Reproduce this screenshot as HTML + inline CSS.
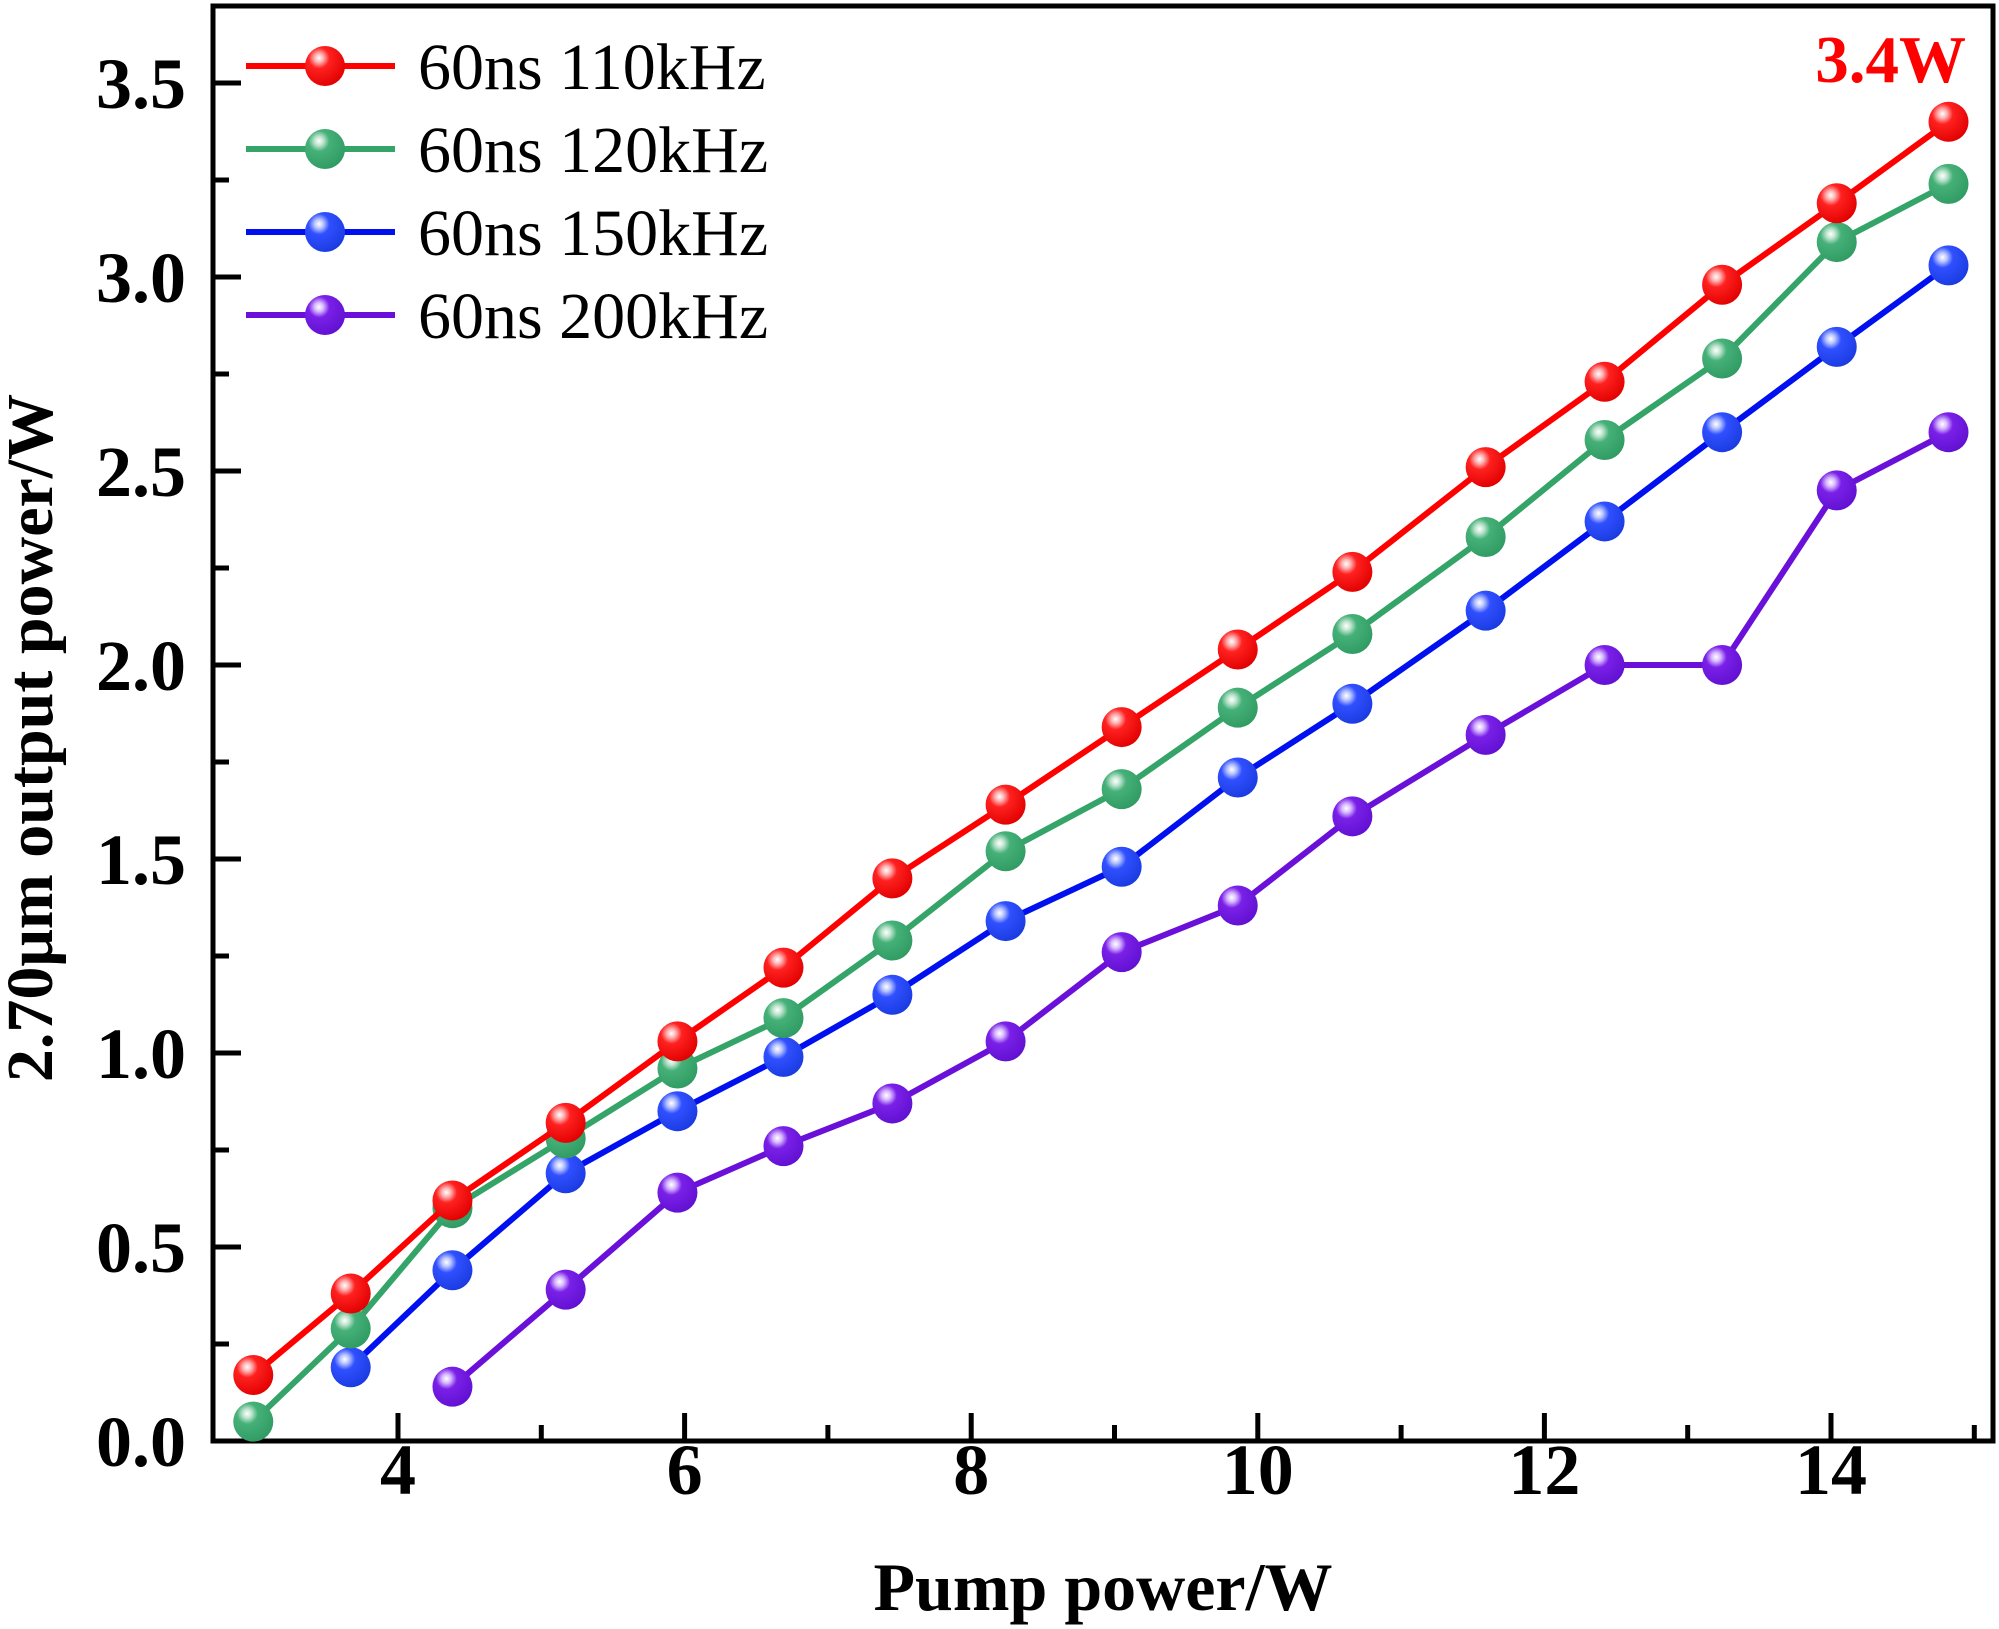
<!DOCTYPE html>
<html><head><meta charset="utf-8"><style>
html,body{margin:0;padding:0;background:#fff;}
svg{display:block;}
text{font-family:"Liberation Serif",serif;}
</style></head><body>
<svg id="chart" width="1999" height="1629" viewBox="0 0 1999 1629" xmlns="http://www.w3.org/2000/svg">
<defs>
<radialGradient id="gr-red" cx="0.35" cy="0.3" r="0.75"><stop offset="0" stop-color="#fff"/><stop offset="0.15" stop-color="#ffb0b0"/><stop offset="0.35" stop-color="#ff2020"/><stop offset="1" stop-color="#e00000"/></radialGradient>
<radialGradient id="gr-green" cx="0.35" cy="0.3" r="0.75"><stop offset="0" stop-color="#fff"/><stop offset="0.15" stop-color="#bfe5cf"/><stop offset="0.35" stop-color="#45b078"/><stop offset="1" stop-color="#2f9a62"/></radialGradient>
<radialGradient id="gr-blue" cx="0.35" cy="0.3" r="0.75"><stop offset="0" stop-color="#fff"/><stop offset="0.15" stop-color="#b8c4ff"/><stop offset="0.35" stop-color="#3050ff"/><stop offset="1" stop-color="#1a3ae0"/></radialGradient>
<radialGradient id="gr-purple" cx="0.35" cy="0.3" r="0.75"><stop offset="0" stop-color="#fff"/><stop offset="0.15" stop-color="#d8b8ff"/><stop offset="0.35" stop-color="#7a20e8"/><stop offset="1" stop-color="#6010d0"/></radialGradient>
</defs>
<g id="plot"></g>
</svg>
<script>
const xRed = [2.99,3.67,4.38,5.17,5.95,6.69,7.45,8.24,9.05,9.86,10.66,11.59,12.42,13.24,14.04,14.82];
const yRed = [0.17,0.38,0.62,0.82,1.03,1.22,1.45,1.64,1.84,2.04,2.24,2.51,2.73,2.98,3.19,3.40];
const xGreen = [2.99,3.67,4.38,5.17,5.95,6.69,7.45,8.24,9.05,9.86,10.66,11.59,12.42,13.24,14.04,14.82];
const yGreen = [0.05,0.29,0.60,0.78,0.96,1.09,1.29,1.52,1.68,1.89,2.08,2.33,2.58,2.79,3.09,3.24];
const xBlue = [3.67,4.38,5.17,5.95,6.69,7.45,8.24,9.05,9.86,10.66,11.59,12.42,13.24,14.04,14.82];
const yBlue = [0.19,0.44,0.69,0.85,0.99,1.15,1.34,1.48,1.71,1.90,2.14,2.37,2.60,2.82,3.03];
const xPurple = [4.38,5.17,5.95,6.69,7.45,8.24,9.05,9.86,10.66,11.59,12.42,13.24,14.04,14.82];
const yPurple = [0.14,0.39,0.64,0.76,0.87,1.03,1.26,1.38,1.61,1.82,2.00,2.00,2.45,2.60];
const xTicks = [4,6,8,10,12,14];
const yTicks = [0.0,0.5,1.0,1.5,2.0,2.5,3.0,3.5];
const legendLabels = ["60ns 110kHz","60ns 120kHz","60ns 150kHz","60ns 200kHz"];

const NS="http://www.w3.org/2000/svg";
const g=document.getElementById('plot');
const L=213,R=1993,T=6,B=1441;
const X=v=>398+(v-4)*143.3;
const Y=v=>1441-v*388;
function mk(tag,attrs,parent){const e=document.createElementNS(NS,tag);for(const k in attrs)e.setAttribute(k,attrs[k]);(parent||g).appendChild(e);return e;}

const frame=mk('rect',{x:L,y:T,width:R-L,height:B-T,fill:'none',stroke:'#000','stroke-width':5});



for(let v=3;v<=15;v++){
  const major=xTicks.includes(v);
  const t=mk('line',{x1:X(v),x2:X(v),y1:B,y2:B-(major?28:16),stroke:'#000','stroke-width':5});
  
  
}
xTicks.forEach(v=>{
  const t=mk('text',{x:X(v),y:1494,'text-anchor':'middle','font-size':72,'font-weight':'bold'});
  t.textContent=v;
  
  
});
for(let i=0;i<=14;i++){
  const v=i*0.25;const major=i%2===0;
  const t=mk('line',{x1:L,x2:L+(major?28:16),y1:Y(v),y2:Y(v),stroke:'#000','stroke-width':5});
  
  
}
yTicks.forEach(v=>{
  const t=mk('text',{x:186,y:Y(v)+25,'text-anchor':'end','font-size':72,'font-weight':'bold'});
  t.textContent=v.toFixed(1);
  
  
});
const xt=mk('text',{x:1103,y:1610,'text-anchor':'middle','font-size':68,'font-weight':'bold'});
xt.textContent='Pump power/W';


const yt=mk('text',{x:0,y:0,'text-anchor':'middle','font-size':66,'font-weight':'bold',transform:'translate(52,738) rotate(-90)'});
yt.textContent='2.70μm output power/W';



const series=[
 {xs:xRed,ys:yRed,c:'#ff0000',gr:'gr-red',n:'red'},
 {xs:xGreen,ys:yGreen,c:'#35a468',gr:'gr-green',n:'green'},
 {xs:xBlue,ys:yBlue,c:'#0010ee',gr:'gr-blue',n:'blue'},
 {xs:xPurple,ys:yPurple,c:'#6a10d8',gr:'gr-purple',n:'purple'}];
series.slice().reverse().forEach(s=>{
  const pts=s.xs.map((x,i)=>X(x)+','+Y(s.ys[i])).join(' ');
  const pl=mk('polyline',{points:pts,fill:'none',stroke:s.c,'stroke-width':6});
  
  
  s.xs.forEach((x,i)=>{
    const c=mk('circle',{cx:X(x),cy:Y(s.ys[i]),r:20,fill:'url(#'+s.gr+')'});
    
    
  });
});
series.forEach((s,i)=>{
  const y=66+i*83;
  const l=mk('line',{x1:246,x2:395,y1:y,y2:y,stroke:s.c,'stroke-width':6});
  
  
  const c=mk('circle',{cx:325,cy:y,r:20,fill:'url(#'+s.gr+')'});
  
  
  const t=mk('text',{x:418,y:y+23,'font-size':66});
  t.textContent=legendLabels[i];
  
  
});
const ann=mk('text',{x:1966,y:82,'text-anchor':'end','font-size':67,'font-weight':'bold',fill:'#ff0000'});
ann.textContent='3.4W';


</script>
</body></html>
